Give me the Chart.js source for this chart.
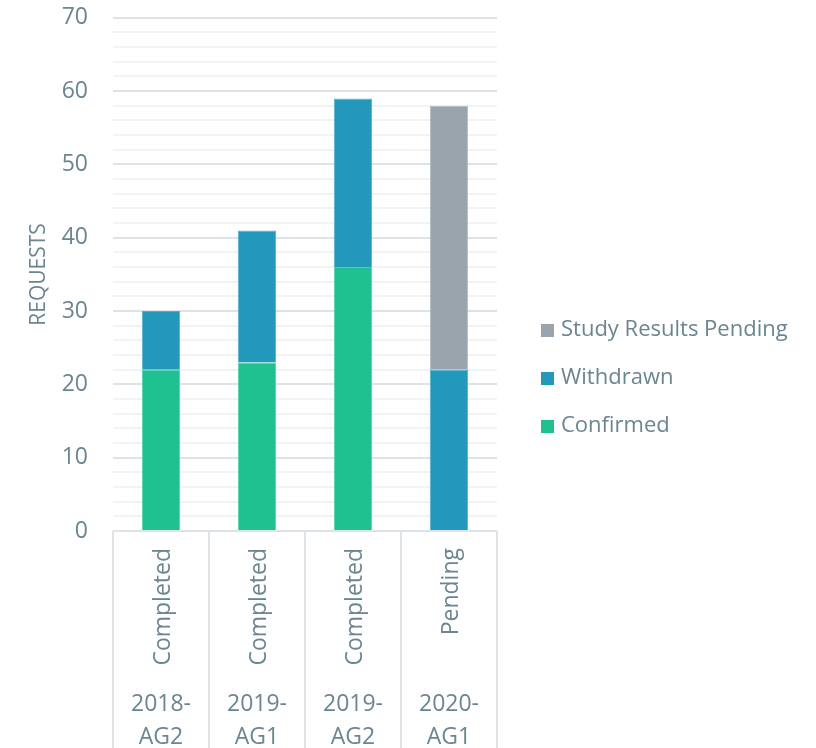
<!DOCTYPE html>
<html>
<head>
<meta charset="utf-8">
<script src="https://cdn.jsdelivr.net/npm/chart.js@4.4.1/dist/chart.umd.min.js"></script>
<style>
  html, body { margin: 0; padding: 0; background: #fff; }
  #wrap { position: relative; width: 816px; height: 748px; }
  #legend { position: absolute; left: 541px; top: 303px; margin: 0; padding: 0; list-style: none;
            font-family: 'Open Sans', 'Noto Sans', sans-serif; font-size: 22px; color: #6b8591; }
  #legend li { height: 48px; line-height: 48px; white-space: nowrap; }
  #legend span { display: inline-block; width: 13px; height: 13px; margin-right: 7px; vertical-align: -1px; }
</style>
</head>
<body>
<div id="wrap"><canvas id="chart"></canvas><ul id="legend"></ul></div>
<script>
// Data
const statusLabels = ['Completed', 'Completed', 'Completed', 'Pending'];
const periodLabels = [['2018-', 'AG2'], ['2019-', 'AG1'], ['2019-', 'AG2'], ['2020-', 'AG1']];
const confirmed = [22, 23, 36, 0];
const withdrawn = [8, 18, 23, 22];
const studyPending = [0, 0, 0, 36];

const TEXT = '#6b8591';
const FONT = "'Open Sans', 'Noto Sans', sans-serif";
const FS = 23;

// Draws the two-level category axis (rotated status + period) with box lines
const groupAxis = {
    id: 'groupAxis',
    afterDraw(chart) {
        const x = chart.scales.x;
        const ctx = chart.ctx;
        const n = statusLabels.length;
        const w = (x.right - x.left) / n;
        const top = x.top;
        const bottom = chart.height;

        ctx.save();
        ctx.strokeStyle = '#dde3e6';
        ctx.lineWidth = 2;
        for (let i = 0; i <= n; i++) {
            const px = Math.round(x.left + i * w);
            ctx.beginPath();
            ctx.moveTo(px, top);
            ctx.lineTo(px, bottom);
            ctx.stroke();
        }

        ctx.fillStyle = TEXT;
        ctx.font = FS + 'px ' + FONT;
        statusLabels.forEach((lab, i) => {
            const cx = x.getPixelForValue(i);
            ctx.save();
            ctx.translate(cx + 2, top + 17);
            ctx.rotate(-Math.PI / 2);
            ctx.textAlign = 'right';
            ctx.textBaseline = 'middle';
            ctx.fillText(lab, 0, 0);
            ctx.restore();
        });

        ctx.textAlign = 'center';
        ctx.textBaseline = 'middle';
        periodLabels.forEach((lines, i) => {
            const cx = x.getPixelForValue(i);
            lines.forEach((t, j) => ctx.fillText(t, cx, top + 173 + j * 33));
        });
        ctx.restore();
    }
};

const chart = new Chart(document.getElementById('chart'), {
    type: 'bar',
    data: {
        labels: statusLabels,
        datasets: [
            { label: 'Confirmed', data: confirmed, backgroundColor: '#20c191', borderColor: '#4fd1aa', borderWidth: 1, borderSkipped: 'bottom' },
            { label: 'Withdrawn', data: withdrawn, backgroundColor: '#2398bb', borderColor: '#4fb0cc', borderWidth: 1, borderSkipped: 'bottom' },
            { label: 'Study Results Pending', data: studyPending, backgroundColor: '#9aa4ad', borderColor: '#b3bbc2', borderWidth: 1, borderSkipped: 'bottom' }
        ]
    },
    options: {
        responsive: true,
        maintainAspectRatio: false,
        animation: false,
        layout: { padding: { top: 0, right: 319, left: 18 } },
        datasets: { bar: { barPercentage: 0.4, categoryPercentage: 1 } },
        plugins: {
            tooltip: { enabled: false },
            legend: { display: false }
        },
        scales: {
            x: {
                stacked: true,
                grid: { display: false },
                border: { display: false },
                ticks: { display: false },
                afterFit(scale) { scale.height = 217; }
            },
            y: {
                stacked: true,
                min: 0,
                max: 70,
                border: { display: false },
                grid: {
                    drawTicks: true,
                    tickLength: 21,
                    tickColor: 'rgba(0,0,0,0)',
                    color: c => (c.tick.value % 10 === 0 ? '#dde3e6' : '#f1f3f4'),
                    lineWidth: 2
                },
                ticks: {
                    stepSize: 2,
                    autoSkip: false,
                    padding: 4,
                    color: TEXT,
                    font: { family: FONT, size: FS },
                    callback: v => (v % 10 === 0 ? v : '')
                },
                title: {
                    display: true,
                    text: 'REQUESTS',
                    color: TEXT,
                    font: { family: FONT, size: 21 },
                    padding: { top: 8, bottom: 0 }
                },
                afterFit(scale) { scale.width = 95; }
            }
        }
    },
    plugins: [groupAxis]
});

// Legend (reversed, like the stacking order)
const legendEl = document.getElementById('legend');
chart.data.datasets.slice().reverse().forEach(ds => {
    const li = document.createElement('li');
    const sw = document.createElement('span');
    sw.style.background = ds.backgroundColor;
    li.appendChild(sw);
    li.appendChild(document.createTextNode(ds.label));
    legendEl.appendChild(li);
});
</script>
</body>
</html>
